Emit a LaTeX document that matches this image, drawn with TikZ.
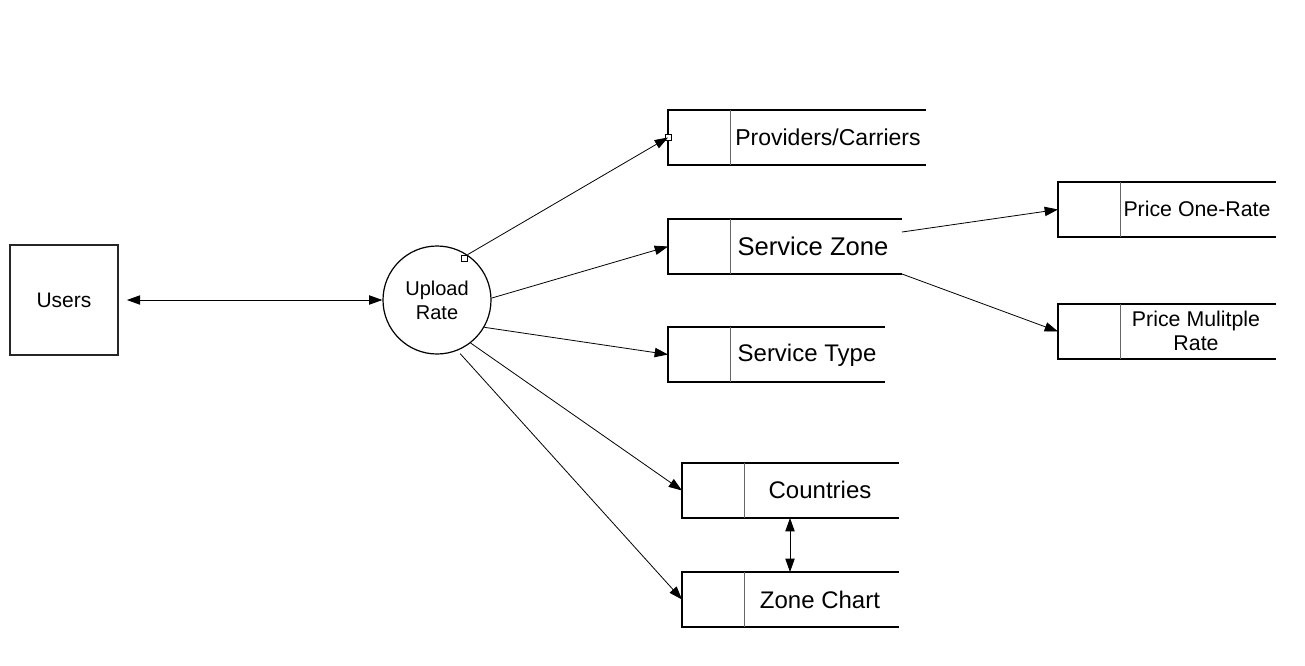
\documentclass[tikz,border=0pt]{standalone}
\usepackage{fontspec}
\setmainfont{Liberation Sans}
\usetikzlibrary{positioning, arrows.meta}
\usetikzlibrary{calc}

\begin{document}
\begin{tikzpicture}[x=0.75pt, y=-0.75pt,
    flow/.style={-{Triangle[length=10pt,width=7pt]}, line width=0.6pt},
    bothflow/.style={{Triangle[length=10pt,width=7pt]}-{Triangle[length=10pt,width=7pt]}, line width=0.6pt},
    storeline/.style={line width=1.2pt, line cap=rect},
    divider/.style={line width=0.7pt, draw=black!60},
    marker/.style={draw, fill=white, line width=0.4pt, minimum size=4.5pt, inner sep=0pt},
    lbl/.style={inner sep=0pt, align=center}]
    \useasboundingbox (0,0) rectangle (1305,665);

    % Draw the user entity and the process
    \node[draw=black!85, line width=1.3pt, minimum width=81pt, minimum height=82pt,
          font=\fontsize{15.75}{18}\selectfont] (users) at (64,300) {Users};
    \node[draw, circle, line width=0.9pt, minimum size=81pt, inner sep=0pt, align=center,
          font=\fontsize{15}{18}\selectfont] (upl) at (437,300) {Upload\\Rate};

    % Draw the data stores (left, top, right)
    \foreach \n/\l/\t/\r in {prov/668/110/925, zone/668/219/901, type/668/327/884,
                             ctry/682/463/898, chart/682/572/898,
                             one/1058/182/1275, multi/1058/304/1275} {
        \coordinate (\n-nw) at (\l,\t);
        \coordinate (\n-sw) at (\l,\t+55);
        \coordinate (\n-ne) at (\r,\t);
        \coordinate (\n-se) at (\r,\t+55);
        \coordinate (\n-w) at (\l,\t+27.5);
        \draw[storeline] (\n-ne) -- (\n-nw) -- (\n-sw) -- (\n-se);
        \draw[divider] ($(\n-nw)+(62,0)$) -- ($(\n-sw)+(62,0)$);
    }

    % Draw the store labels
    \node[lbl, font=\fontsize{17.25}{20}\selectfont] (prov-t) at (828,137) {Providers/Carriers};
    \node[lbl, font=\fontsize{19.2}{22}\selectfont] (zone-t) at (813,246) {Service Zone};
    \node[lbl, font=\fontsize{18}{21}\selectfont] (type-t) at (807,355) {Service Type};
    \node[lbl, font=\fontsize{18}{21}\selectfont] (ctry-t) at (820,490) {Countries};
    \node[lbl, font=\fontsize{18}{21}\selectfont] (chart-t) at (820,600) {Zone Chart};
    \node[lbl, font=\fontsize{16}{19}\selectfont] (one-t) at (1197,209) {Price One-Rate};
    \node[lbl, font=\fontsize{16}{18}\selectfont] (multi-t) at (1196,331) {Price Mulitple\\Rate};

    % Draw the connection markers
    \node[marker] (m1) at ($(upl.center)!0.92!(upl.57)$) {};
    \node[marker] (m2) at (prov-w) {};

    % Draw the data flows
    \draw[bothflow, shorten <=6pt] (users.east) -- (upl.west);
    \draw[flow] (m1.north east) -- (prov-w);
    \draw[flow] (upl.2) -- (zone-w);
    \draw[flow] (upl.-30) -- (type-w);
    \draw[flow] (upl.-52) -- (ctry-w);
    \draw[flow, shorten <=3pt] (upl.-68) -- (chart-w);

    % Flows out of the service zone
    \coordinate (zone-a) at ($(zone-ne)+(1,13)$);
    \coordinate (zone-b) at ($(zone-se)+(1,0)$);
    \draw[flow] (zone-a) -- (one-w);
    \draw[flow] (zone-b) -- (multi-w);

    % Countries and zone chart
    \draw[bothflow] ($(ctry-sw)!0.5!(ctry-se)$) -- ($(chart-nw)!0.5!(chart-ne)$);
\end{tikzpicture}
\end{document}
